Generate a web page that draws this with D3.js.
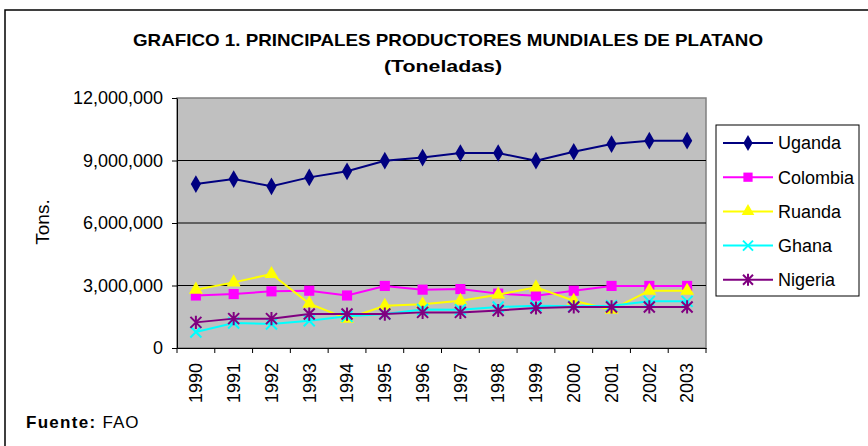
<!DOCTYPE html>
<html lang="es">
<head>
<meta charset="UTF-8">
<title>Productores de platano</title>
<script src="https://cdn.jsdelivr.net/npm/d3@7"></script>
<style>
    body{ margin:0; background:#fff; }
    svg{ display:block; font-family:"Liberation Sans", Arial, sans-serif; }
    .axis path, .axis line{ stroke:#000; }
    .axis text{ font-size:18px; fill:#000; font-family:"Liberation Sans", Arial, sans-serif; }
</style>
</head>
<body>
<div id="root"></div>
<script>
    // datos
    let years = ["1990","1991","1992","1993","1994","1995","1996","1997","1998","1999","2000","2001","2002","2003"]
    let uganda   = [7870000,8110000,7760000,8190000,8480000,8990000,9140000,9360000,9360000,8990000,9420000,9790000,9950000,9950000]
    let colombia = [2520000,2590000,2720000,2750000,2520000,2980000,2800000,2830000,2610000,2510000,2750000,2980000,2980000,2980000]
    let ruanda   = [2800000,3150000,3550000,2130000,1410000,2030000,2100000,2270000,2560000,2910000,2270000,1840000,2750000,2750000]
    let ghana    = [770000,1200000,1150000,1310000,1520000,1630000,1850000,1840000,1970000,2030000,2000000,2030000,2240000,2240000]
    let nigeria  = [1230000,1410000,1410000,1630000,1630000,1630000,1710000,1710000,1800000,1920000,1970000,1970000,1970000,1970000]
    let yTicks = [0,3000000,6000000,9000000,12000000]

    let series = [
        {name:"Uganda", values:uganda, color:"#000080", marker:"diamond"},
        {name:"Colombia", values:colombia, color:"#FF00FF", marker:"square"},
        {name:"Ruanda", values:ruanda, color:"#FFFF00", marker:"triangle"},
        {name:"Ghana", values:ghana, color:"#00FFFF", marker:"x"},
        {name:"Nigeria", values:nigeria, color:"#800080", marker:"star"}
    ]

    let width = 868, height = 446
    let plot = {left:177, top:98, right:706, bottom:348}

    let svg = d3.select("#root").append("svg").attr("width", width).attr("height", height)

    // marco exterior
    svg.append("rect").attr("x",5).attr("y",10).attr("width",880).attr("height",460)
        .attr("fill","#fff").attr("stroke","#000").attr("stroke-width",1.5)

    svg.append("text").attr("x",448).attr("y",46).attr("text-anchor","middle")
        .attr("font-size",17).attr("font-weight","bold")
        .attr("textLength",630).attr("lengthAdjust","spacingAndGlyphs")
        .text("GRAFICO 1. PRINCIPALES PRODUCTORES MUNDIALES DE PLATANO")
    svg.append("text").attr("x",443).attr("y",72).attr("text-anchor","middle")
        .attr("font-size",17).attr("font-weight","bold")
        .attr("textLength",118).attr("lengthAdjust","spacingAndGlyphs")
        .text("(Toneladas)")

    let x = d3.scaleBand().domain(years).range([plot.left, plot.right])
    let y = d3.scaleLinear().domain([0,12000000]).range([plot.bottom, plot.top])

    // area del grafico
    svg.append("rect").attr("x",plot.left).attr("y",plot.top)
        .attr("width",plot.right-plot.left).attr("height",plot.bottom-plot.top)
        .attr("fill","#C0C0C0").attr("stroke","#808080").attr("stroke-width",1.5)

    svg.append("g").selectAll("line").data(yTicks.slice(1,-1)).join("line")
        .attr("x1",plot.left).attr("x2",plot.right)
        .attr("y1",d => y(d)).attr("y2",d => y(d))
        .attr("stroke","#000").attr("stroke-width",1.2)

    let yAxis = d3.axisLeft(y).tickValues(yTicks).tickSize(5).tickPadding(9)
        .tickFormat(d3.format(",")).tickSizeOuter(0)
    svg.append("g").attr("class","axis").attr("transform","translate("+plot.left+",0)").call(yAxis)

    let xAxis = d3.axisBottom(x).tickSize(0).tickSizeOuter(0)
    let gx = svg.append("g").attr("class","axis").attr("transform","translate(0,"+plot.bottom+")").call(xAxis)
    gx.selectAll(".tick text").attr("transform","rotate(-90)").attr("text-anchor","end")
        .attr("x",-15).attr("y",0).attr("dy","0.35em")
    // marcas entre categorias
    gx.selectAll(".sep").data(years.concat(["end"])).join("line").attr("class","sep")
        .attr("x1",(d,i) => plot.left + i*x.step()).attr("x2",(d,i) => plot.left + i*x.step())
        .attr("y1",0).attr("y2",5).attr("stroke","#000")

    svg.append("text").attr("transform","translate(49,222) rotate(-90)")
        .attr("text-anchor","middle").attr("font-size",19).text("Tons.")

    function marker(g, type, color, s) {
        if (type == "diamond") {
            g.append("path").attr("d", d3.symbol(d3.symbolDiamond, s*s*0.75)()).attr("fill",color)
        } else if (type == "square") {
            g.append("path").attr("d", d3.symbol(d3.symbolSquare, s*s*0.85)()).attr("fill",color)
        } else if (type == "triangle") {
            g.append("path").attr("d", d3.symbol(d3.symbolTriangle, s*s*0.7)()).attr("fill",color)
        } else if (type == "x") {
            let r = s/2
            g.append("path").attr("d","M"+(-r)+","+(-r)+"L"+r+","+r+"M"+(-r)+","+r+"L"+r+","+(-r))
                .attr("stroke",color).attr("stroke-width",2).attr("fill","none")
        } else {
            let r = s/2
            g.append("path").attr("d","M"+(-r)+","+(-r)+"L"+r+","+r+"M"+(-r)+","+r+"L"+r+","+(-r)+"M0,"+(-r*1.2)+"L0,"+(r*1.2))
                .attr("stroke",color).attr("stroke-width",2).attr("fill","none")
        }
    }

    let line = d3.line().x((d,i) => x(years[i]) + x.bandwidth()/2).y(d => y(d))

    series.forEach(function (s) {
        svg.append("path").datum(s.values).attr("d",line)
            .attr("fill","none").attr("stroke",s.color).attr("stroke-width",2)
        s.values.forEach(function (v,i) {
            let g = svg.append("g").attr("transform","translate("+(x(years[i])+x.bandwidth()/2)+","+y(v)+")")
            marker(g, s.marker, s.color, 11)
        })
    })

    // leyenda
    let lg = svg.append("g")
    lg.append("rect").attr("x",716).attr("y",125).attr("width",143).attr("height",171)
        .attr("fill","#fff").attr("stroke","#000").attr("stroke-width",1)
    series.forEach(function (s,i) {
        let yy = 143 + i*34.2
        lg.append("line").attr("x1",723).attr("x2",773).attr("y1",yy).attr("y2",yy)
            .attr("stroke",s.color).attr("stroke-width",2)
        let g = lg.append("g").attr("transform","translate(748,"+yy+")")
        marker(g, s.marker, s.color, 10)
        lg.append("text").attr("x",778).attr("y",yy).attr("dy","0.35em")
            .attr("font-size",18).text(s.name)
    })

    let f = svg.append("text").attr("x",26).attr("y",428).attr("font-size",17)
    f.append("tspan").attr("font-weight","bold").attr("letter-spacing",1.3).text("Fuente: ")
    f.append("tspan").attr("letter-spacing",1).text("FAO")
</script>
</body>
</html>
